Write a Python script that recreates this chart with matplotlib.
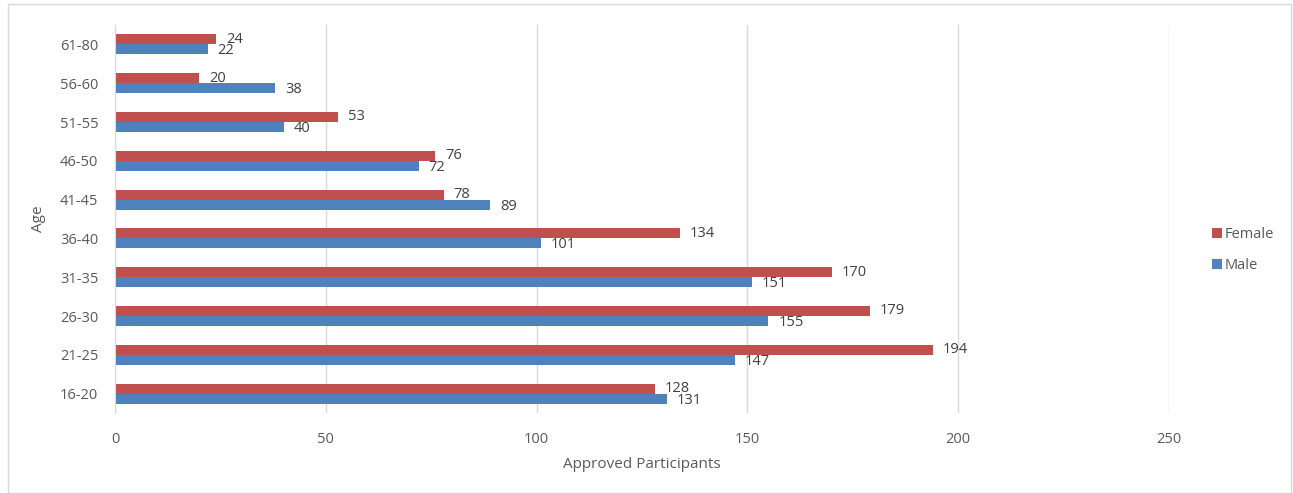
import matplotlib
matplotlib.use("Agg")
from matplotlib import pyplot as plt
from matplotlib.patches import Rectangle
import numpy as np

# data
ages = ['16-20', '21-25', '26-30', '31-35', '36-40',
        '41-45', '46-50', '51-55', '56-60', '61-80']
female = [128, 194, 179, 170, 134, 78, 76, 53, 20, 24]
male = [131, 147, 155, 151, 101, 89, 72, 40, 38, 22]

female_color = '#C0504D'
male_color = '#4F81BD'
text_color = '#595959'
grid_color = '#D9D9D9'

plt.rcParams['font.family'] = ['Open Sans', 'DejaVu Sans']

fig = plt.figure(figsize=(12.93, 4.93), dpi=100)
ax = fig.add_axes([115 / 1293, 1 - 413 / 493, (1169 - 115) / 1293, (413 - 25) / 493])

# border around the whole chart
fig.patches.append(Rectangle((8 / 1293, 0), 1283 / 1293, 1 - 4 / 493,
                             transform=fig.transFigure, fill=False,
                             edgecolor='#D9D9D9', linewidth=1))

y = np.arange(len(ages))
h = 0.26
bars_m = ax.barh(y - h / 2, male, height=h, color=male_color, label='Male')
bars_f = ax.barh(y + h / 2, female, height=h, color=female_color, label='Female')

# data labels
for bars, vals, dy in ((bars_f, female, 0), (bars_m, male, -1)):
    for b, v in zip(bars, vals):
        ax.annotate(str(v), (v, b.get_y() + b.get_height() / 2),
                    xytext=(7, dy), textcoords='offset points',
                    ha='left', va='center', fontsize=10.5, color='#404040')

ax.set_xlim(0, 250)
ax.set_ylim(-0.5, len(ages) - 0.5)
ax.set_xticks(range(0, 251, 50))
ax.set_yticks(y)
ax.set_yticklabels(ages)
ax.tick_params(length=0, labelsize=10.5, colors=text_color)
ax.tick_params(axis='x', pad=14)
ax.tick_params(axis='y', pad=12)
ax.grid(axis='x', color=grid_color, linewidth=1)
ax.set_axisbelow(True)
for s in ('top', 'right', 'bottom'):
    ax.spines[s].set_visible(False)
ax.spines['left'].set_color(grid_color)

ax.set_xlabel('Approved Participants', fontsize=11, color=text_color, labelpad=7)
ax.set_ylabel('Age', fontsize=11, color=text_color, labelpad=10)

handles = [bars_f, bars_m]
leg = fig.legend(handles, ['Female', 'Male'], loc='center left',
                 bbox_to_anchor=(1199 / 1293, 1 - 250 / 493), frameon=False,
                 fontsize=10.5, handlelength=0.65, handleheight=0.65,
                 handletextpad=0.2, labelspacing=1.1)
for t in leg.get_texts():
    t.set_color(text_color)

fig.savefig('out.png', dpi=100)
